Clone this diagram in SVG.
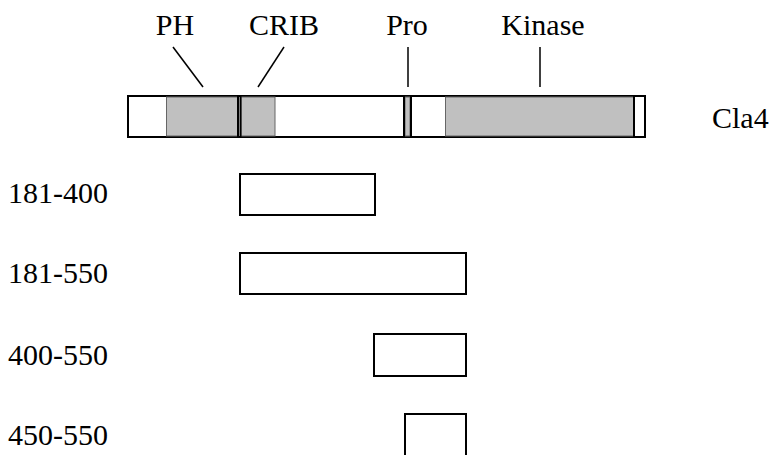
<svg xmlns="http://www.w3.org/2000/svg" width="774" height="455" viewBox="0 0 774 455">
<style>
text{font-family:"Liberation Serif","Times New Roman",serif;font-size:30px;fill:#000}
.box{fill:#fff;stroke:#000;stroke-width:2}
.dom{fill:#c0c0c0;stroke:#666;stroke-width:1}
.ln{stroke:#000;stroke-width:2;fill:none}
.tick{stroke:#000;stroke-width:1.5;fill:none}
</style>
<rect width="774" height="455" fill="#fff"/>
<g id="cla4">
<rect class="box" x="128" y="96" width="517" height="41"/>
<rect class="dom" x="166.5" y="97" width="71" height="39"/>
<rect class="dom" x="241" y="97" width="34" height="39"/>
<rect class="dom" x="405" y="97" width="5" height="39"/>
<rect class="dom" x="445.5" y="97" width="188" height="39"/>
<line class="ln" x1="238" y1="96" x2="238" y2="137"/>
<line class="ln" x1="240.5" y1="96" x2="240.5" y2="137"/>
<line class="ln" x1="404" y1="96" x2="404" y2="137"/>
<line class="ln" x1="411" y1="96" x2="411" y2="137"/>
<line class="ln" x1="634" y1="96" x2="634" y2="137"/>
<text x="712" y="128">Cla4</text>
</g>
<g id="labels" text-anchor="middle">
<text x="175" y="35">PH</text>
<text x="284" y="35">CRIB</text>
<text x="407" y="35">Pro</text>
<text x="543" y="35">Kinase</text>
</g>
<g id="connectors">
<line class="tick" x1="173" y1="47" x2="203" y2="87"/>
<line class="tick" x1="284" y1="47" x2="258" y2="87"/>
<line class="tick" x1="408" y1="47" x2="408" y2="87"/>
<line class="tick" x1="540" y1="47" x2="540" y2="87"/>
</g>
<g id="f181-400">
<rect class="box" x="240" y="174" width="135" height="41"/>
<text x="8" y="203">181-400</text>
</g>
<g id="f181-550">
<rect class="box" x="240" y="253" width="226" height="41"/>
<text x="8" y="283">181-550</text>
</g>
<g id="f400-550">
<rect class="box" x="374" y="334" width="92" height="42"/>
<text x="8" y="365">400-550</text>
</g>
<g id="f450-550">
<rect class="box" x="405" y="414" width="61" height="43"/>
<text x="8" y="445">450-550</text>
</g>
</svg>
